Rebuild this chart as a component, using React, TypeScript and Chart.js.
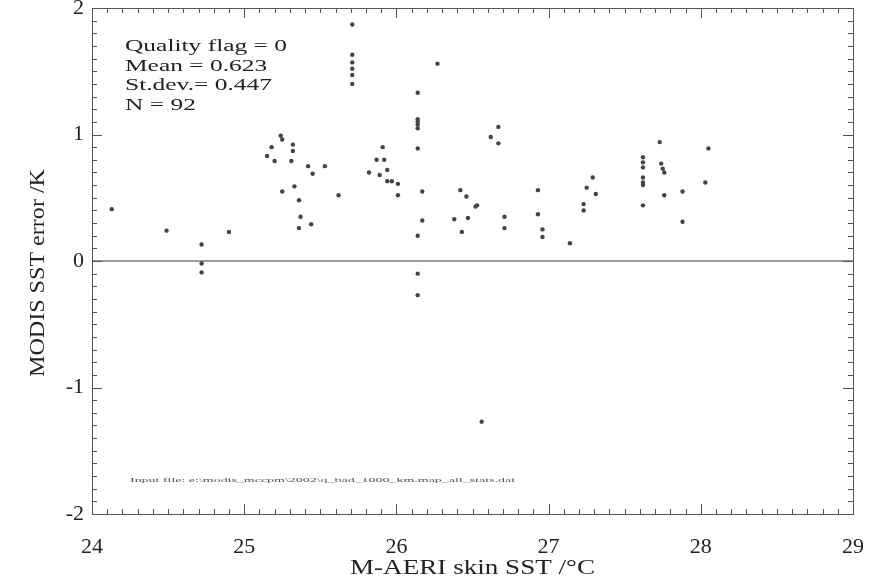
import React, { useEffect, useRef } from "react";
import { Chart, registerables } from "chart.js";

Chart.register(...registerables);

// M-AERI skin SST (°C)
const sstValues: number[] = [
  24.13, 24.49, 24.72, 24.72, 24.72, 24.90,
  25.71, 25.71, 25.71, 25.71, 25.71, 25.71,
  26.27, 26.14, 26.14, 26.14, 26.14, 26.14, 26.17, 26.17, 26.14, 26.14, 26.14, 26.14,
  25.24, 25.25, 25.18, 25.32, 25.32, 25.15, 25.20, 25.31, 25.42, 25.45, 25.53,
  25.25, 25.33, 25.36, 25.37, 25.36, 25.44, 25.62,
  25.91, 25.87, 25.92, 25.82, 25.89, 25.94, 25.94, 25.97, 26.01, 26.01,
  26.42, 26.46, 26.52, 26.53, 26.38, 26.47, 26.43, 26.71, 26.71,
  26.62, 26.67, 26.67,
  26.93, 26.93, 26.96, 26.96, 27.14,
  27.29, 27.25, 27.31, 27.23, 27.23,
  27.62, 27.62, 27.62, 27.62, 27.62, 27.62, 27.62,
  27.73, 27.74, 27.75, 27.76, 27.76,
  27.88, 27.88, 28.03, 28.05,
  26.56,
];

// MODIS SST error (K)
const errorValues: number[] = [
  0.41, 0.24, 0.13, -0.02, -0.09, 0.23,
  1.87, 1.63, 1.57, 1.52, 1.47, 1.40,
  1.56, 1.33, 1.12, 1.10, 1.08, 1.05, 0.55, 0.32, 0.20, -0.10, -0.27, 0.89,
  0.99, 0.96, 0.90, 0.92, 0.87, 0.83, 0.79, 0.79, 0.75, 0.69, 0.75,
  0.55, 0.59, 0.48, 0.35, 0.26, 0.29, 0.52,
  0.90, 0.80, 0.80, 0.70, 0.68, 0.72, 0.63, 0.63, 0.61, 0.52,
  0.56, 0.51, 0.43, 0.44, 0.33, 0.34, 0.23, 0.35, 0.26,
  0.98, 1.06, 0.93,
  0.56, 0.37, 0.25, 0.19, 0.14,
  0.66, 0.58, 0.53, 0.45, 0.40,
  0.82, 0.78, 0.74, 0.66, 0.62, 0.60, 0.44,
  0.94, 0.77, 0.73, 0.70, 0.52,
  0.55, 0.31, 0.62, 0.89,
  -1.27,
];

const statsLines: string[] = [
  "Quality flag = 0",
  "Mean = 0.623",
  "St.dev.= 0.447",
  "N = 92",
];

const inputFileNote = "Input file: e:\\modis_mccpm\\2002\\q_bad_1000_km.map_all_stats.dat";

const xTitle = "M-AERI skin SST /°C";
const yTitle = "MODIS SST error /K";

const SERIF = "'Liberation Serif', 'DejaVu Serif', serif";

// draw text stretched horizontally (in its own direction) to a target width
function stretchedText(
  ctx: CanvasRenderingContext2D,
  text: string,
  x: number,
  y: number,
  targetWidth: number,
  align: "left" | "center",
  rotate = 0
) {
  const w = ctx.measureText(text).width;
  const k = targetWidth / w;
  ctx.save();
  ctx.translate(x, y);
  if (rotate) ctx.rotate(rotate);
  ctx.scale(k, 1);
  ctx.textAlign = align;
  ctx.fillText(text, 0, 0);
  ctx.restore();
}

const framePlugin = {
  id: "framePlugin",
  beforeDatasetsDraw(chart: any) {
    const { ctx, chartArea } = chart;
    const y = chart.scales.y;
    const py = y.getPixelForValue(0);
    ctx.save();
    ctx.strokeStyle = "#9a9a9a";
    ctx.lineWidth = 2;
    ctx.beginPath();
    ctx.moveTo(chartArea.left, py);
    ctx.lineTo(chartArea.right, py);
    ctx.stroke();
    ctx.restore();
  },
  afterDraw(chart: any) {
    const { ctx, chartArea } = chart;
    const xs = chart.scales.x;
    const ys = chart.scales.y;
    const { left, right, top, bottom } = chartArea;
    ctx.save();
    ctx.strokeStyle = "#555";
    ctx.lineWidth = 1;
    ctx.strokeRect(left + 0.5, top + 0.5, right - left, bottom - top);
    ctx.beginPath();
    for (let i = 0; i <= 50; i++) {
      const v = 24 + i * 0.1;
      const px = Math.round(xs.getPixelForValue(v)) + 0.5;
      const len = i % 10 === 0 ? 10 : 5;
      ctx.moveTo(px, bottom);
      ctx.lineTo(px, bottom - len);
      ctx.moveTo(px, top);
      ctx.lineTo(px, top + len);
    }
    for (let i = 0; i <= 40; i++) {
      const v = -2 + i * 0.1;
      const py = Math.round(ys.getPixelForValue(v)) + 0.5;
      const len = i % 10 === 0 ? 10 : 5;
      ctx.moveTo(left, py);
      ctx.lineTo(left + len, py);
      ctx.moveTo(right, py);
      ctx.lineTo(right - len, py);
    }
    ctx.stroke();

    ctx.fillStyle = "#222";
    ctx.textBaseline = "middle";

    // statistics annotation
    ctx.font = `17px ${SERIF}`;
    const k = 162 / ctx.measureText(statsLines[0]).width;
    statsLines.forEach((s, i) => {
      const w = ctx.measureText(s).width * k;
      stretchedText(ctx, s, left + 33, top + 39 + i * 19.5, w, "left");
    });

    // axis titles
    ctx.font = `21px ${SERIF}`;
    stretchedText(ctx, xTitle, (left + right) / 2, 568, 245, "center");
    stretchedText(ctx, yTitle, 38, (top + bottom) / 2 + 12, 208, "center", -Math.PI / 2);

    // input file note (tiny)
    ctx.font = `7px ${SERIF}`;
    ctx.fillStyle = "#555";
    stretchedText(ctx, inputFileNote, left + 38, bottom - 34, 385, "left");

    ctx.restore();
  },
};

export default function App() {
  const canvasRef = useRef<HTMLCanvasElement | null>(null);

  useEffect(() => {
    if (!canvasRef.current) return;
    const points = sstValues.map((x, i) => ({ x, y: errorValues[i] }));
    const chart = new Chart(canvasRef.current, {
      type: "scatter",
      data: {
        datasets: [
          {
            label: "MODIS SST error",
            data: points,
            pointRadius: 2.2,
            pointHoverRadius: 2.2,
            pointBackgroundColor: "#444",
            pointBorderColor: "#444",
            pointBorderWidth: 0,
          },
        ],
      },
      options: {
        animation: false,
        responsive: false,
        maintainAspectRatio: false,
        devicePixelRatio: 1,
        layout: { padding: { left: 0, right: 31, top: 8, bottom: 0 } },
        plugins: {
          legend: { display: false },
          tooltip: { enabled: false },
          title: { display: false },
        },
        scales: {
          x: {
            type: "linear",
            min: 24,
            max: 29,
            afterFit: (s: any) => {
              s.height = 68;
              s.paddingLeft = 0;
              s.paddingRight = 0;
            },
            ticks: {
              stepSize: 1,
              padding: 20,
              color: "#222",
              font: { family: SERIF, size: 22 },
            },
            grid: { display: false, drawTicks: false },
            border: { display: false },
            title: { display: false },
          },
          y: {
            type: "linear",
            min: -2,
            max: 2,
            afterFit: (s: any) => {
              s.width = 92;
              s.paddingTop = 0;
              s.paddingBottom = 0;
            },
            ticks: {
              stepSize: 1,
              padding: 8,
              color: "#222",
              font: { family: SERIF, size: 22 },
            },
            grid: { display: false, drawTicks: false },
            border: { display: false },
            title: { display: false },
          },
        },
      },
      plugins: [framePlugin],
    });
    return () => chart.destroy();
  }, []);

  return (
    <div
      style={{
        position: "fixed",
        left: 0,
        top: 0,
        width: 884,
        height: 582,
        background: "#fff",
      }}
    >
      <canvas ref={canvasRef} width={884} height={582} style={{ width: 884, height: 582, display: "block" }} />
    </div>
  );
}
